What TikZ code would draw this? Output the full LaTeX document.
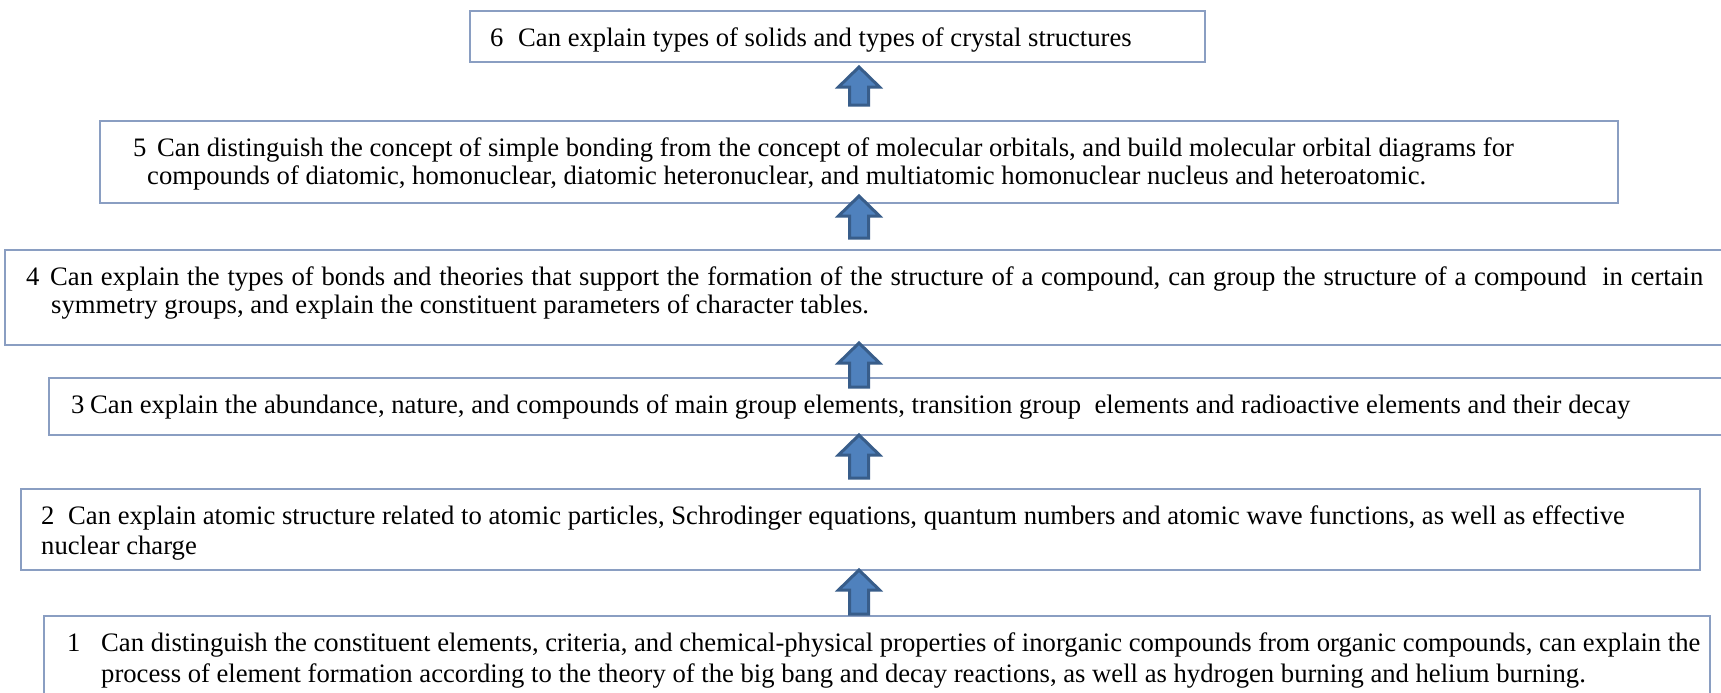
\documentclass[tikz,border=0pt]{standalone}
\usepackage{fontspec}
\setmainfont{Liberation Serif}
\definecolor{boxline}{RGB}{138,158,194}
\definecolor{arrfill}{RGB}{79,129,189}
\definecolor{arrline}{RGB}{56,93,138}
\begin{document}
\begin{tikzpicture}[x=1pt,y=-1pt,
  box/.style={draw=boxline, line width=2pt, rectangle, inner sep=0pt},
  txt/.style={anchor=base west, inner sep=0pt, font=\fontsize{26.65}{30}\selectfont},
  blockarrow/.style={draw=arrline, fill=arrfill, line width=3pt, line join=miter}]
\useasboundingbox (0,0) rectangle (1721,693);
\clip (0,0) rectangle (1721,693);
\fill[white] (0,0) rectangle (1721,693);
% boxes
\node[box, minimum width=735, minimum height=51] (b6) at (837.5,36.5) {};
\node[box, minimum width=1518, minimum height=82] (b5) at (859,162) {};
\node[box, minimum width=1735, minimum height=95] (b4) at (872.5,297.5) {};
\node[box, minimum width=1691, minimum height=57] (b3) at (894.5,406.5) {};
\node[box, minimum width=1679, minimum height=81] (b2) at (860.5,529.5) {};
\node[box, minimum width=1666, minimum height=104] (b1) at (877,668) {};
% texts
\node[txt] (t6) at (490,47) {\makebox[28pt][l]{6}Can explain types of solids and types of crystal structures};
\node[txt] (t5a) at (133,156) {\makebox[24pt][l]{5}Can distinguish the concept of simple bonding from the concept of molecular orbitals, and build molecular orbital diagrams for};
\node[txt] (t5b) at (147,184) {compounds of diatomic, homonuclear, diatomic heteronuclear, and multiatomic homonuclear nucleus and heteroatomic.};
\node[txt] (t4a) at (26,285) {\makebox[1677pt][s]{\makebox[24pt][l]{4}Can explain the types of bonds and theories that support the formation of the structure of a compound, can group the structure of a compound\ \ in certain}};
\node[txt] (t4b) at (51,313) {symmetry groups, and explain the constituent parameters of character tables.};
\node[txt] (t3) at (71,413) {\makebox[19pt][l]{3}Can explain the abundance, nature, and compounds of main group elements, transition group\ \ elements and radioactive elements and their decay};
\node[txt] (t2a) at (41,524) {\makebox[27pt][l]{2}Can explain atomic structure related to atomic particles, Schrodinger equations, quantum numbers and atomic wave functions, as well as effective};
\node[txt] (t2b) at (41,554) {nuclear charge};
\node[txt] (t1a) at (67,651) {\makebox[34pt][l]{1}Can distinguish the constituent elements, criteria, and chemical-physical properties of inorganic compounds from organic compounds, can explain the};
\node[txt] (t1b) at (101,682) {process of element formation according to the theory of the big bang and decay reactions, as well as hydrogen burning and helium burning.};
% block arrows
\foreach \n/\t/\b in {1/67/105, 2/196/238, 3/343/387, 4/435/478, 5/570/614} {
  \coordinate (a\n) at (859,\t);
  \draw[blockarrow] (a\n) -- (859+20.5,\t+20) -- (859+9.5,\t+20) -- (859+9.5,\b) -- (859-9.5,\b) -- (859-9.5,\t+20) -- (859-20.5,\t+20) -- cycle;
}
\end{tikzpicture}
\end{document}
